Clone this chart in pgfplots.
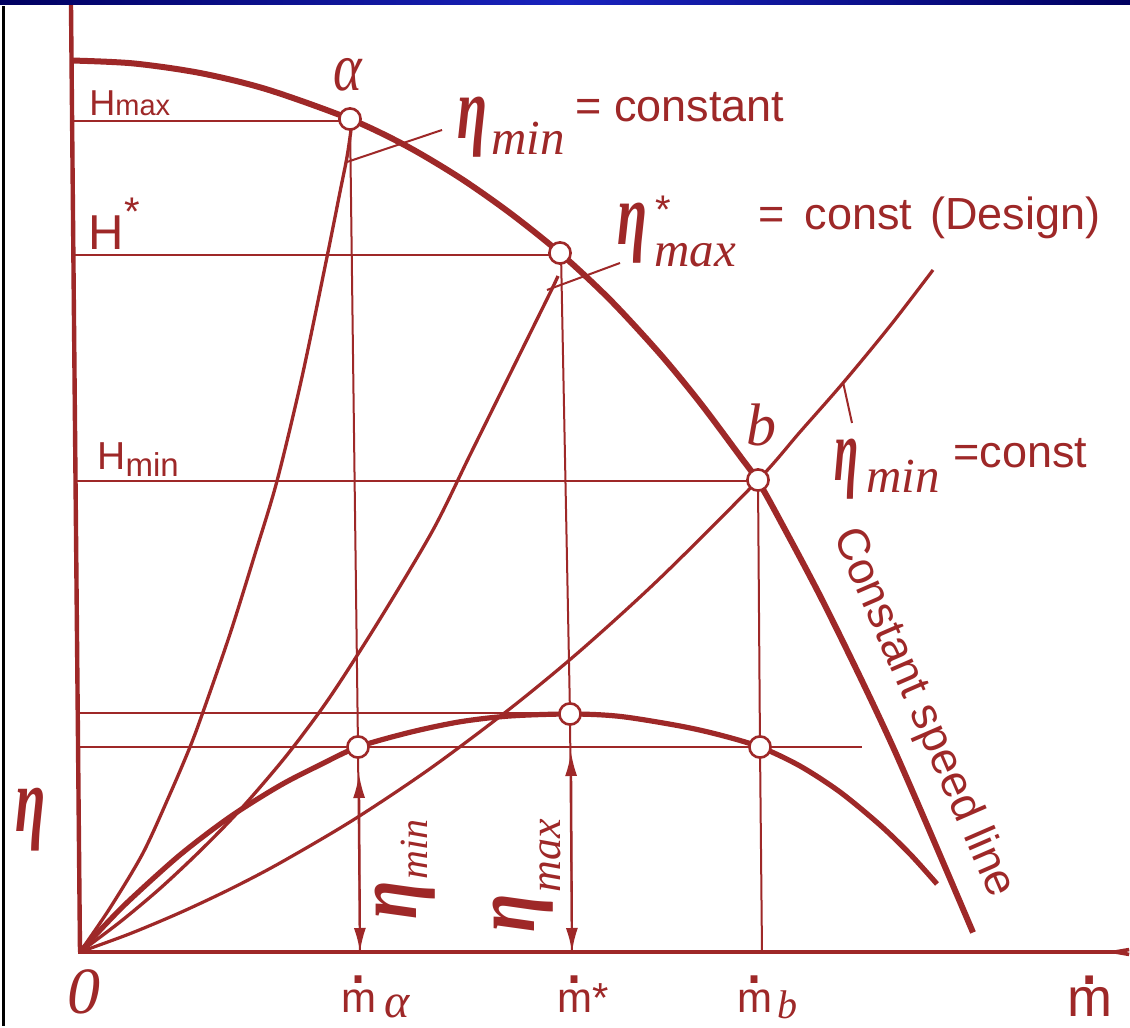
\documentclass[border=0pt]{standalone}
\usepackage{graphicx}
\usepackage{fontspec}
\setmainfont{Liberation Sans}
\newfontfamily\hand{Liberation Serif}
\usepackage{pgfplots}
\pgfplotsset{compat=1.18}
\usetikzlibrary{arrows.meta}

\definecolor{ink}{RGB}{158,40,40}
\definecolor{navyA}{RGB}{0,0,96}
\definecolor{navyB}{RGB}{25,35,190}

\newcommand{\sz}[1]{\fontsize{#1}{#1}\selectfont}
% narrow italic eta in the style of the hand lettering
\newcommand{\heta}[1][0.62]{{\hand\bfseries\itshape\sz{44}\scalebox{#1}[1]{η}}}
\newcommand{\hit}[2]{{\hand\itshape\sz{#1}#2}}
% m with a dot above (mass flow): size, raise, dot size
\newcommand{\mdot}[3]{{\sz{#1}\setbox0\hbox{m}\rlap{\hbox to \wd0{\hss\raisebox{#2}{\sz{#3}.}\hss}}\box0}}

\begin{document}
\begin{tikzpicture}[every node/.style={inner sep=0pt, text=ink}]
\fill[white] (0,0) rectangle (565pt,513pt);
\begin{axis}[
  width=565pt, height=513pt, scale only axis,
  xmin=-80, xmax=1050, ymin=-74, ymax=952,
  hide axis, clip=false,
]
% axes
\addplot[ink, line width=2.2pt] coordinates {(0,0) (-9,947)};
\addplot[ink, line width=2pt, arrows={-Stealth[length=26pt,width=9pt,inset=19pt]}] coordinates {(-2,0) (1045,0)};

% horizontal guide lines
\addplot[ink, line width=0.9pt] coordinates {(-8.4,831) (270,831)};
\addplot[ink, line width=0.9pt] coordinates {(-7,697) (480,697)};
\addplot[ink, line width=0.9pt] coordinates {(-4.8,471) (678,471)};
\addplot[ink, line width=0.9pt] coordinates {(-2.4,239) (490,239)};
\addplot[ink, line width=0.9pt] coordinates {(-2,205) (782,205)};

% vertical guide lines
\addplot[ink, line width=1pt] coordinates {(270,833) (278,205) (280,0)};
\addplot[ink, line width=1pt] coordinates {(481,699) (490,238) (492,0)};
\addplot[ink, line width=1pt] coordinates {(678,472) (680,205) (682,0)};

% leader lines to the labels
\addplot[ink, line width=1pt] coordinates {(267,790) (362,822)};
\addplot[ink, line width=1pt] coordinates {(467,662) (540,689)};
\addplot[ink, line width=1pt] coordinates {(763,570) (772,529)};

% lines of constant efficiency through the origin
\addplot[ink, line width=1.65pt, smooth, tension=0.5] coordinates {
 (0,0) (30,44) (63,99) (90,158) (110,205) (123,240) (150,318) (175,398)
 (197,471) (222,575) (247,695) (260,760) (267,795) (271,822)};
\addplot[ink, line width=1.65pt, smooth, tension=0.5] coordinates {
 (0,0) (40,30) (80,63.5) (120,101) (160,142) (207,197) (250,255) (300,333)
 (353,422) (390,497) (430,578) (470,659) (478,676)};
\addplot[ink, line width=1.6pt, smooth, tension=0.5] coordinates {
 (0,0) (50,18.3) (100,39.3) (150,62.8) (200,89) (273,131.9) (350,183.3)
 (430,243.3) (500,301) (580,373.8) (678,471.8) (720,520) (763,569) (810,626) (853,682)};

% head characteristic at constant speed
\addplot[ink, line width=3pt, smooth, tension=0.5] coordinates {
 (-9,891.5) (53,888.6) (120,879) (187,862.6) (270,833) (327,805.7) (380,774.1)
 (430,739) (480,699) (530,652.3) (580,598.1) (620,549.4) (660,495.9) (678,471)
 (700,431.7) (747,342.5) (813,205) (893,19.5)};

% efficiency curve
\addplot[ink, line width=2.6pt, smooth, tension=0.5] coordinates {
 (0,0) (25,27) (50,52.2) (100,97.1) (150,135.1) (200,166.5) (240,187.1)
 (278,205) (330,219.7) (380,230.2) (430,236) (491,238) (540,235.6) (600,226)
 (640,217) (680,205) (720,186) (760,160) (800,127) (830,98) (857,68)};

% efficiency arrows
\addplot[ink, line width=1.1pt, arrows={Latex[length=12pt,width=6pt]-Latex[length=12pt,width=6pt]}] coordinates {(280,0) (279,178)};
\addplot[ink, line width=1.1pt, arrows={Latex[length=12pt,width=6pt]-Latex[length=12pt,width=6pt]}] coordinates {(492,0) (491,200)};

% operating points
\addplot[only marks, mark=*, mark size=5.3pt, mark options={draw=ink, fill=white, line width=1.3pt}] coordinates {
 (270,833) (480,699) (678,472) (278,205) (490,238) (680,205)};

% point labels
\node at (268,877) {\hand\itshape\sz{34}\scalebox{0.8}[1]{α}};
\node at (681,527) {\hit{30}{b}};

% head labels
\node[anchor=base west] at (9,836) {\sz{18}H\sz{14.5}max};
\node[anchor=base west] at (8,702) {\sz{24.5}H};
\node at (52,740) {\sz{20}*};
\node[anchor=base west] at (17,482) {\sz{19.5}H\raisebox{-3.5pt}{\sz{16.5}min}};

% efficiency labels
\node at (392,825) {\heta};
\node[anchor=base west] at (411,797) {\hit{24.5}{min}};
\node[anchor=base west] at (495,830) {\sz{22.5}= constant};

\node at (552,719) {\heta};
\node at (583,742) {\sz{20}*};
\node[anchor=base west] at (574,685) {\hit{24.5}{max}};
\node[anchor=base west] at (678,722) {\sz{22.5}=\hspace{10pt}const\hspace{9pt}(Design)};

\node at (767,483) {\heta[0.5]};
\node[anchor=base west] at (786,459) {\hit{24.5}{min}};
\node[anchor=base west] at (873,484) {\sz{22.5}=const};

\node[rotate=90] at (325,52) {\heta[0.8]};
\node[rotate=90, anchor=base west] at (347,72) {\hit{20}{min}};
\node[rotate=90] at (443,39) {\heta[0.8]};
\node[rotate=90, anchor=base west] at (480,59) {\hit{22}{max}};

\node[rotate=-66.5] at (843,239) {\sz{22.5}Constant speed line};

% axis labels
\node at (-49,132) {\hand\bfseries\itshape\sz{46}\scalebox{0.6}[1]{η}};
\node at (4,-40) {\hit{33}{0}};
\node[anchor=base west] at (261,-61) {\mdot{21}{14.5pt}{36}};
\node[anchor=base west] at (304,-66) {\hit{24}{α}};
\node[anchor=base west] at (477,-61) {\mdot{21}{14.5pt}{36}\sz{21}*};
\node[anchor=base west] at (657,-61) {\mdot{21}{14.5pt}{36}};
\node[anchor=base west] at (697,-67) {\hit{20}{b}};
\node[anchor=base west] at (987,-65) {\mdot{27}{16pt}{40}};

% frame
\shade[left color=navyA, right color=navyA, middle color=navyB] (rel axis cs:0,0.99513) rectangle (rel axis cs:1,1);
\draw[black, line width=1.5pt] (rel axis cs:0.00265,0) -- (rel axis cs:0.00265,0.9942);
\end{axis}
\end{tikzpicture}
\end{document}
